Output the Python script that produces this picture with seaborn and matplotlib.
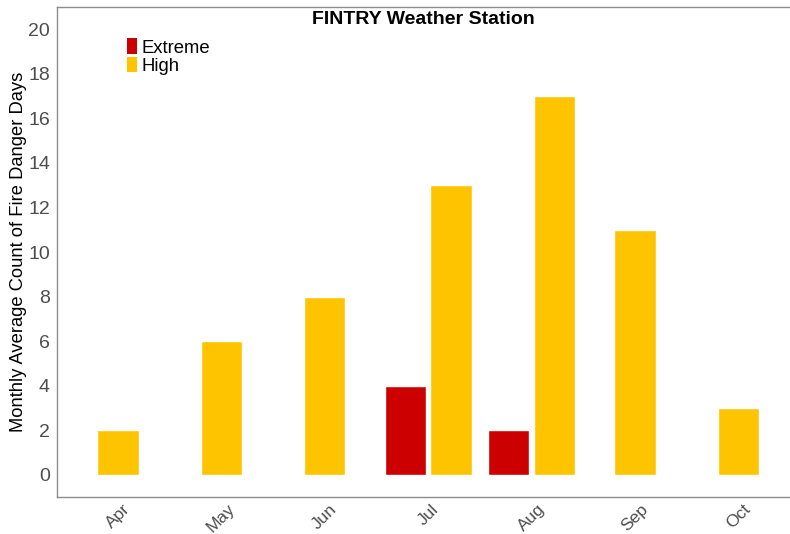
import seaborn as sns
import pandas as pd
import matplotlib.pyplot as plt

months = ["Apr", "May", "Jun", "Jul", "Aug", "Sep", "Oct"]
extreme = [0, 0, 0, 4, 2, 0, 0]
high = [2, 6, 8, 13, 17, 11, 3]
levels = ["Extreme", "High"]
colours = {"Extreme": "#CC0000", "High": "#FFC400"}

rows = []
for m, e, h in zip(months, extreme, high):
    if e > 0:
        rows.append((m, "Extreme", e))
    if h > 0:
        rows.append((m, "High", h))
df = pd.DataFrame(rows, columns=["month", "level", "count"])

sns.set_style("white")
plt.rcParams["font.family"] = ["Arial", "Liberation Sans", "DejaVu Sans"]

fig = plt.figure(figsize=(7.9, 5.34), dpi=100)
ax = fig.add_axes([0.072, 0.069, 0.928, 0.918])

sns.barplot(data=df, x="month", y="count", hue="level", order=months,
            hue_order=levels, palette=colours, width=0.88, gap=0.09,
            edgecolor="white", linewidth=1.0, saturation=1, ax=ax)

# months with only one series: centre the bar like ggplot's dodge(preserve="single")
n_bars = [int(e > 0) + int(h > 0) for e, h in zip(extreme, high)]
for p in ax.patches:
    cx = p.get_x() + p.get_width() / 2
    i = int(round(cx))
    if 0 <= i < len(months) and n_bars[i] == 1:
        p.set_x(i - p.get_width() / 2)

ax.set_xlim(-0.59, 6.5)
ax.set_ylim(-1, 21)
ax.set_yticks(range(0, 21, 2))
ax.set_xlabel("")
ax.set_ylabel("Monthly Average Count of Fire Danger Days", fontsize=13.2,
              color="black", labelpad=1)
ax.tick_params(axis="y", labelsize=14, colors="#4D4D4D", length=3, width=0.8, pad=2)
ax.tick_params(axis="x", labelsize=12.5, colors="#4D4D4D", length=3, width=0.8, pad=0)
for lab in ax.get_xticklabels():
    lab.set_rotation(45)
    lab.set_ha("center")

for s in ["left", "bottom", "top"]:
    ax.spines[s].set_color("#8C8C8C")
    ax.spines[s].set_linewidth(1.0)
ax.spines["right"].set_visible(False)

ax.text(0.5, 0.974, "FINTRY Weather Station", transform=ax.transAxes,
        ha="center", va="center", fontsize=14, fontweight="bold", color="black")

leg = ax.legend(title=None, frameon=False, loc="upper left",
                bbox_to_anchor=(0.095, 0.936), borderaxespad=0, borderpad=0,
                fontsize=13.3, handlelength=0.55, handleheight=0.93,
                handletextpad=0.25, labelspacing=0.0)
for h in leg.legend_handles:
    h.set_edgecolor("none")
for t in leg.get_texts():
    t.set_color("black")

fig.savefig("out.png", dpi=100)
